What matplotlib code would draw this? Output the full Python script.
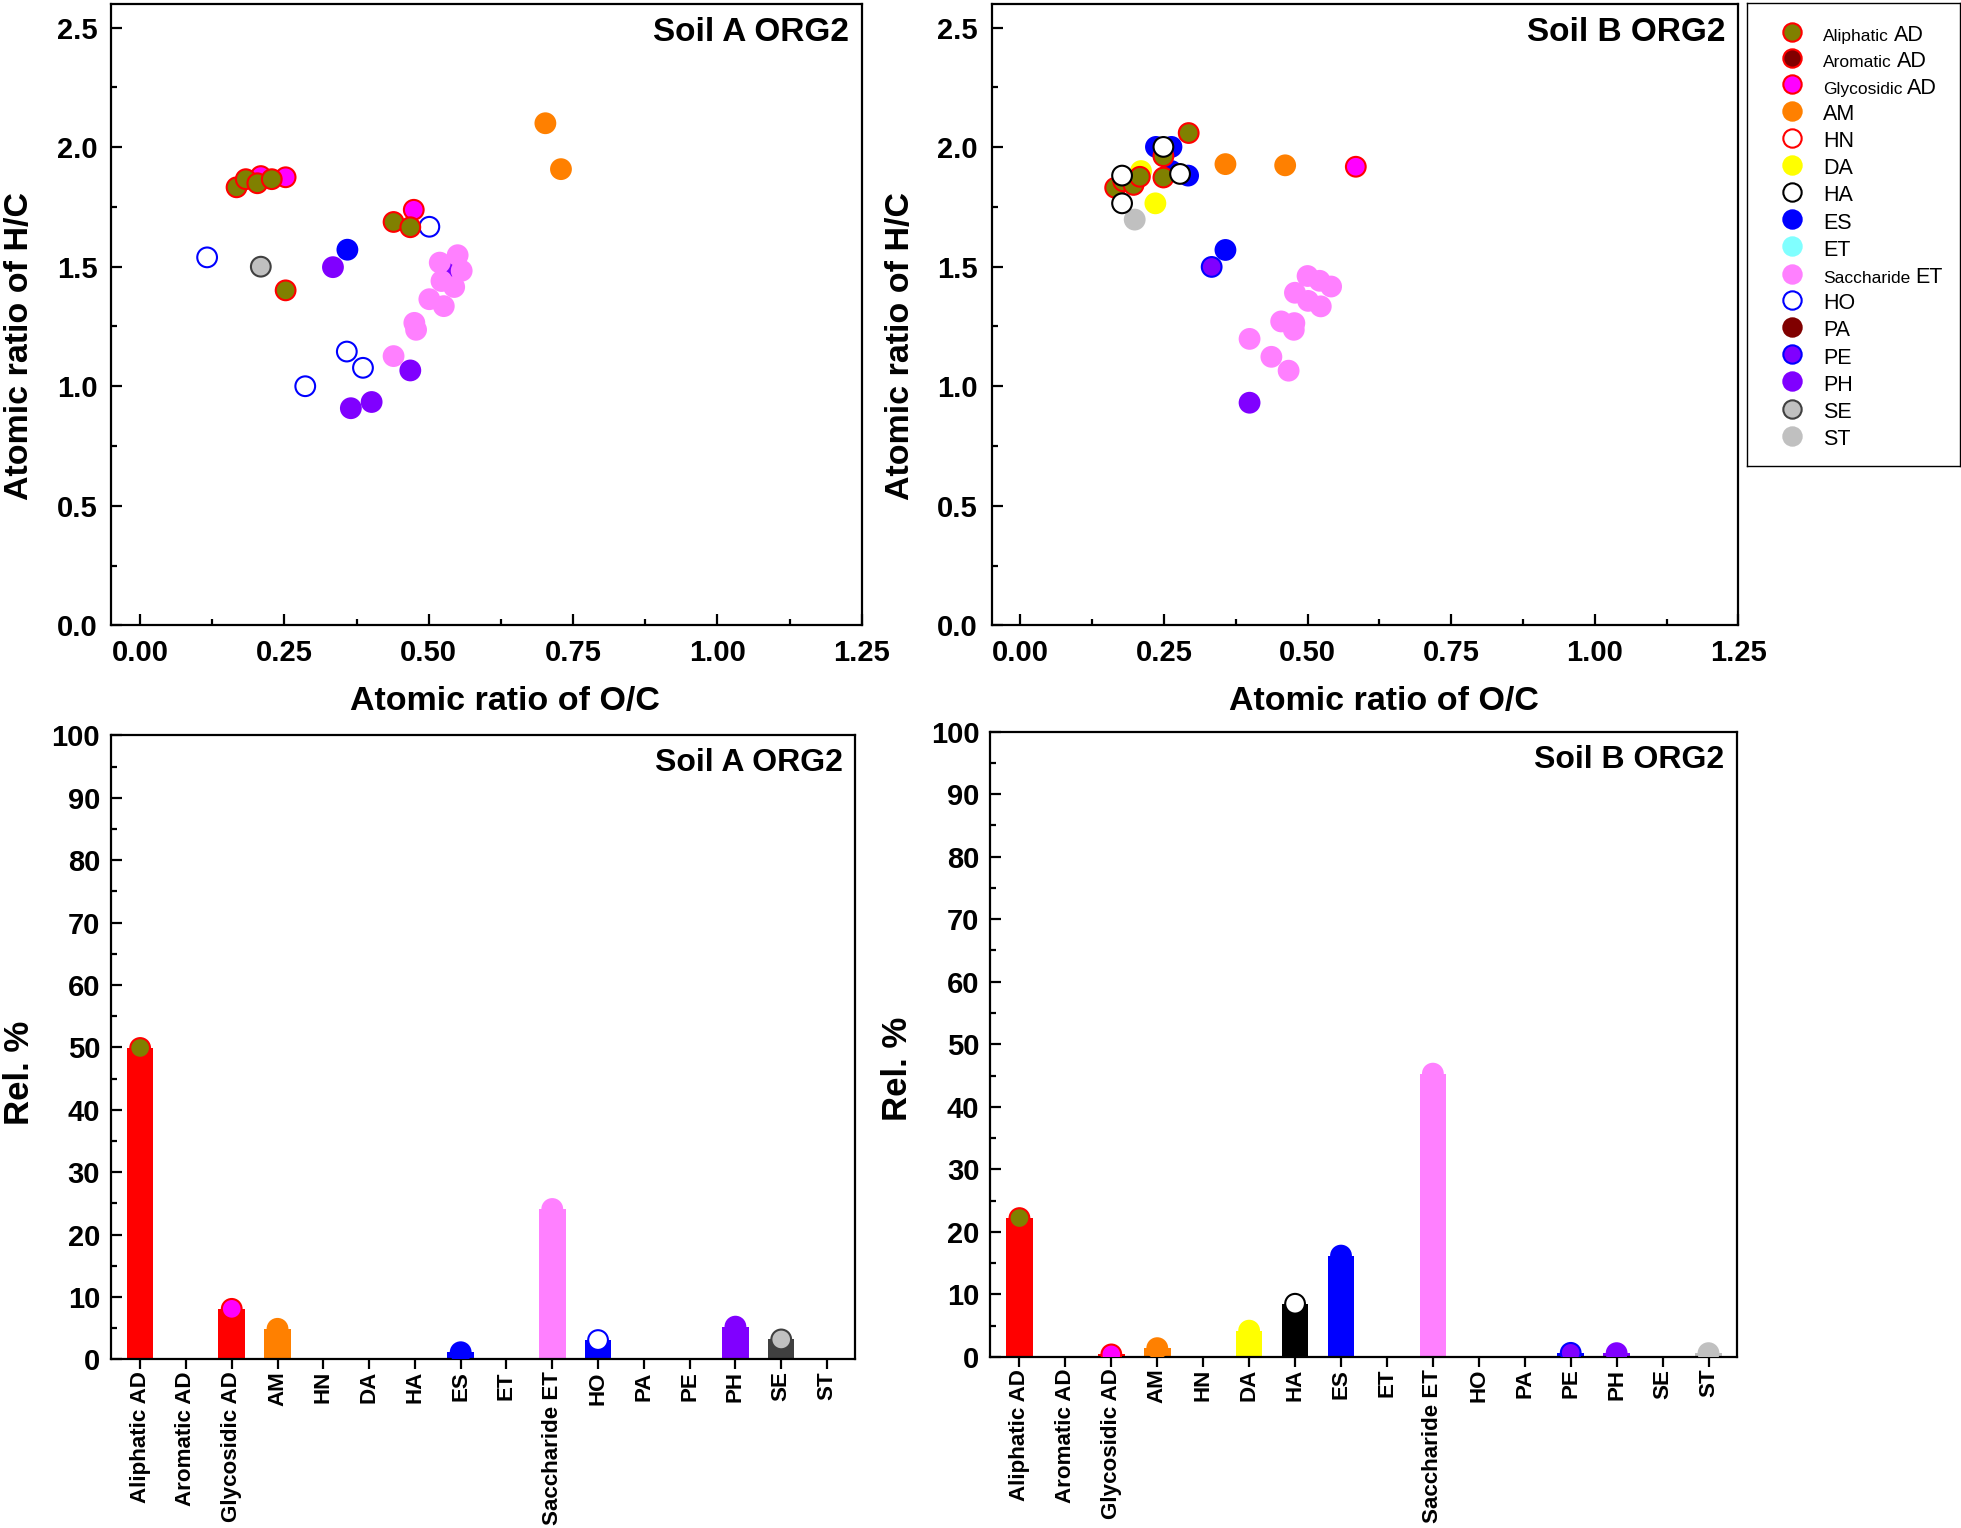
import matplotlib
matplotlib.use("Agg")
import matplotlib.pyplot as plt
from matplotlib.lines import Line2D
from matplotlib.ticker import MultipleLocator
import numpy as np

plt.rcParams['font.family'] = ['Liberation Sans', 'DejaVu Sans']

# ---------------- data ----------------
CLASSES = ["Aliphatic AD", "Aromatic AD", "Glycosidic AD", "AM", "HN", "DA", "HA",
           "ES", "ET", "Saccharide ET", "HO", "PA", "PE", "PH", "SE", "ST"]
FACE = ["#808000", "#800000", "#FF00FF", "#FF8000", "white", "#FFFF00", "white",
        "#0000FF", "#80FFFF", "#FF80FF", "white", "#800000", "#8000FF", "#8000FF",
        "#C0C0C0", "#C0C0C0"]
EDGE = ["#FF0000", "#FF0000", "#FF0000", "#FF8000", "#FF0000", "#FFFF00", "#000000",
        "#0000FF", "#80FFFF", "#FF80FF", "#0000FF", "#800000", "#0000FF", "#8000FF",
        "#404040", "#C0C0C0"]

# Van Krevelen points, Soil A
A_class = (["PH"] * 5 + ["Saccharide ET"] * 10 + ["ES"] + ["HO"] * 5 + ["SE"] + ["AM"] * 2
           + ["Glycosidic AD"] * 3 + ["Aliphatic AD"] * 7)
A_oc = [0.537, 0.334, 0.468, 0.365, 0.401,
        0.519, 0.550, 0.557, 0.522, 0.544, 0.501, 0.526, 0.475, 0.478, 0.439,
        0.359,
        0.116, 0.501, 0.358, 0.386, 0.286,
        0.209,
        0.702, 0.729,
        0.209, 0.252, 0.474,
        0.167, 0.183, 0.203, 0.228, 0.252, 0.439, 0.468]
A_hc = [1.487, 1.498, 1.066, 0.908, 0.934,
        1.517, 1.548, 1.483, 1.440, 1.415, 1.364, 1.335, 1.265, 1.236, 1.126,
        1.571,
        1.539, 1.667, 1.145, 1.077, 1.000,
        1.500,
        2.100, 1.908,
        1.879, 1.874, 1.738,
        1.832, 1.866, 1.849, 1.866, 1.401, 1.687, 1.665]

# Van Krevelen points, Soil B
B_class = (["Saccharide ET"] * 12 + ["PH"] + ["PE"] + ["ES"] * 5 + ["AM"] * 2 + ["DA"] * 2
           + ["ST"] + ["Glycosidic AD"] + ["Aliphatic AD"] * 7 + ["HA"] * 4)
B_oc = [0.399, 0.437, 0.467, 0.454, 0.477, 0.476, 0.478, 0.501, 0.523, 0.500, 0.521, 0.541,
        0.399,
        0.333,
        0.236, 0.263, 0.263, 0.292, 0.357,
        0.357, 0.461,
        0.210, 0.235,
        0.199,
        0.584,
        0.165, 0.179, 0.197, 0.208, 0.249, 0.249, 0.293,
        0.177, 0.177, 0.249, 0.278]
B_hc = [1.198, 1.123, 1.065, 1.271, 1.264, 1.236, 1.391, 1.357, 1.334, 1.461, 1.441, 1.417,
        0.931,
        1.499,
        2.001, 2.001, 1.900, 1.881, 1.570,
        1.929, 1.924,
        1.900, 1.765,
        1.697,
        1.918,
        1.830, 1.857, 1.842, 1.876, 1.873, 1.962, 2.059,
        1.881, 1.765, 2.001, 1.888]

# Relative abundance (%) per class
A_rel = [49.9, 0, 8.1, 4.9, 0, 0, 0, 1.15, 0, 24.1, 3.1, 0, 0, 5.25, 3.2, 0]
B_rel = [22.2, 0, 0.4, 1.4, 0, 4.2, 8.5, 16.2, 0, 45.3, 0, 0, 0.65, 0.6, 0, 0.6]

X_TICKS = [0.00, 0.25, 0.50, 0.75, 1.00, 1.25]
Y_TICKS = [0.0, 0.5, 1.0, 1.5, 2.0, 2.5]
R_TICKS = list(range(0, 101, 10))

# ---------------- figure ----------------
W, H = 1961, 1528
fig = plt.figure(figsize=(W / 100, H / 100), dpi=100)

def fr(l, t, r, b):
    return [l / W, 1 - b / H, (r - l) / W, (b - t) / H]

ax_tl = fig.add_axes(fr(111.3, 3.7, 861.7, 625.3))
ax_tr = fig.add_axes(fr(991.7, 3.7, 1738.3, 625.3))
ax_bl = fig.add_axes(fr(111.3, 735.3, 855.4, 1359.4))
ax_br = fig.add_axes(fr(990.5, 731.6, 1737.0, 1356.9))
ax_lg = fig.add_axes(fr(1747.3, 3.3, 1960.0, 466.0))

SPW = 1.6
MS = 14.2
TICK_FS = 21

def style_spines(ax, lw=SPW):
    for s in ax.spines.values():
        s.set_linewidth(lw)

def vk(ax, cls, oc, hc, title):
    idx = [CLASSES.index(c) for c in cls]
    ax.scatter(oc, hc, s=MS ** 2, c=[FACE[i] for i in idx],
               edgecolors=[EDGE[i] for i in idx], linewidths=1.5, zorder=3)
    ax.set_xlim(-0.05, 1.25)
    ax.set_ylim(0, 2.6)
    ax.set_xticks(X_TICKS)
    ax.set_xticklabels([f"{v:.2f}" for v in X_TICKS])
    ax.set_yticks(Y_TICKS)
    ax.set_yticklabels([f"{v:.1f}" for v in Y_TICKS])
    ax.xaxis.set_minor_locator(MultipleLocator(0.125))
    ax.yaxis.set_minor_locator(MultipleLocator(0.25))
    ax.tick_params(which='both', direction='in', top=False, right=False, width=1.6)
    ax.tick_params(which='major', length=8.0)
    ax.tick_params(which='minor', length=4.0)
    ax.tick_params(axis='x', which='major', labelsize=TICK_FS, pad=10)
    ax.tick_params(axis='y', which='major', labelsize=TICK_FS, pad=10)
    for t in ax.get_xticklabels() + ax.get_yticklabels():
        t.set_fontweight('bold')
    ax.set_xlabel("Atomic ratio of O/C", fontsize=24.5, fontweight='bold', va='center')
    ax.set_ylabel("Atomic ratio of H/C", fontsize=24.5, fontweight='bold', va='center')
    ax.xaxis.set_label_coords(0.525, -0.1227)
    ax.yaxis.set_label_coords(-0.122, 0.45)
    ax.text(0.983, 0.979, title, transform=ax.transAxes, ha='right', va='top',
            fontsize=24, fontweight='bold')
    style_spines(ax)

def bars(ax, vals, title, ylab_y):
    x = np.arange(len(CLASSES))
    ax.bar(x, vals, width=0.58, color=EDGE, zorder=2)
    nz = [i for i, v in enumerate(vals) if v > 0]
    ax.scatter([x[i] for i in nz], [vals[i] for i in nz], s=MS ** 2,
               c=[FACE[i] for i in nz], edgecolors=[EDGE[i] for i in nz],
               linewidths=1.5, zorder=3, clip_on=True)
    ax.set_xlim(-0.63, 15.62)
    ax.set_ylim(0, 100)
    ax.set_xticks(x)
    ax.set_xticklabels(CLASSES, rotation=90, fontsize=16.1, fontweight='bold')
    ax.set_yticks(R_TICKS)
    ax.set_yticklabels([str(v) for v in R_TICKS], fontsize=TICK_FS, fontweight='bold')
    ax.yaxis.set_minor_locator(MultipleLocator(5))
    ax.tick_params(axis='x', direction='out', length=7, width=1.6, pad=1.5, top=False)
    ax.tick_params(axis='y', which='both', direction='in', width=1.6, right=False)
    ax.tick_params(axis='y', which='major', length=8.0, pad=8)
    ax.tick_params(axis='y', which='minor', length=4.0)
    ax.set_ylabel("Rel. %", fontsize=25, fontweight='bold', va='center')
    ax.yaxis.set_label_coords(-0.124, ylab_y)
    ax.text(0.983, 0.979, title, transform=ax.transAxes, ha='right', va='top',
            fontsize=23, fontweight='bold')
    style_spines(ax)

vk(ax_tl, A_class, A_oc, A_hc, "Soil A ORG2")
vk(ax_tr, B_class, B_oc, B_hc, "Soil B ORG2")
bars(ax_bl, A_rel, "Soil A ORG2", 0.459)
bars(ax_br, B_rel, "Soil B ORG2", 0.46)

# ---------------- legend ----------------
ax_lg.set_xticks([])
ax_lg.set_yticks([])
style_spines(ax_lg, 1.0)
handles = [Line2D([], [], marker='o', linestyle='none', markersize=13.2,
                  markerfacecolor=FACE[i], markeredgecolor=EDGE[i], markeredgewidth=1.5)
           for i in range(len(CLASSES))]
prefixes = [c.split(' ')[0] for c in CLASSES]
LF = 15.5
leg = ax_lg.legend(handles, prefixes, loc='upper left',
                   bbox_to_anchor=(33.7 / 212.7, 1 - 19.0 / 462.7),
                   frameon=False, borderpad=0, borderaxespad=0,
                   handlelength=1.0, handleheight=1.25, handletextpad=0.94,
                   labelspacing=0.165, prop={'size': LF, 'family': 'Liberation Sans'})
for t, c in zip(leg.get_texts(), CLASSES):
    if ' ' in c:
        t.set_fontsize(12.5)

fig.canvas.draw()
r = fig.canvas.get_renderer()
inv = fig.transFigure.inverted()
for t, c in zip(leg.get_texts(), CLASSES):
    if ' ' in c:
        suffix = c.split(' ', 1)[1]
        bb = t.get_window_extent(r)
        yb = t.get_transform().transform(t.get_position())[1]
        xf, yf = inv.transform((bb.x1 + 5, yb))
        fig.text(xf, yf, suffix, fontsize=LF, va='baseline', ha='left',
                 family='Liberation Sans')

fig.savefig("out.png", dpi=100)
